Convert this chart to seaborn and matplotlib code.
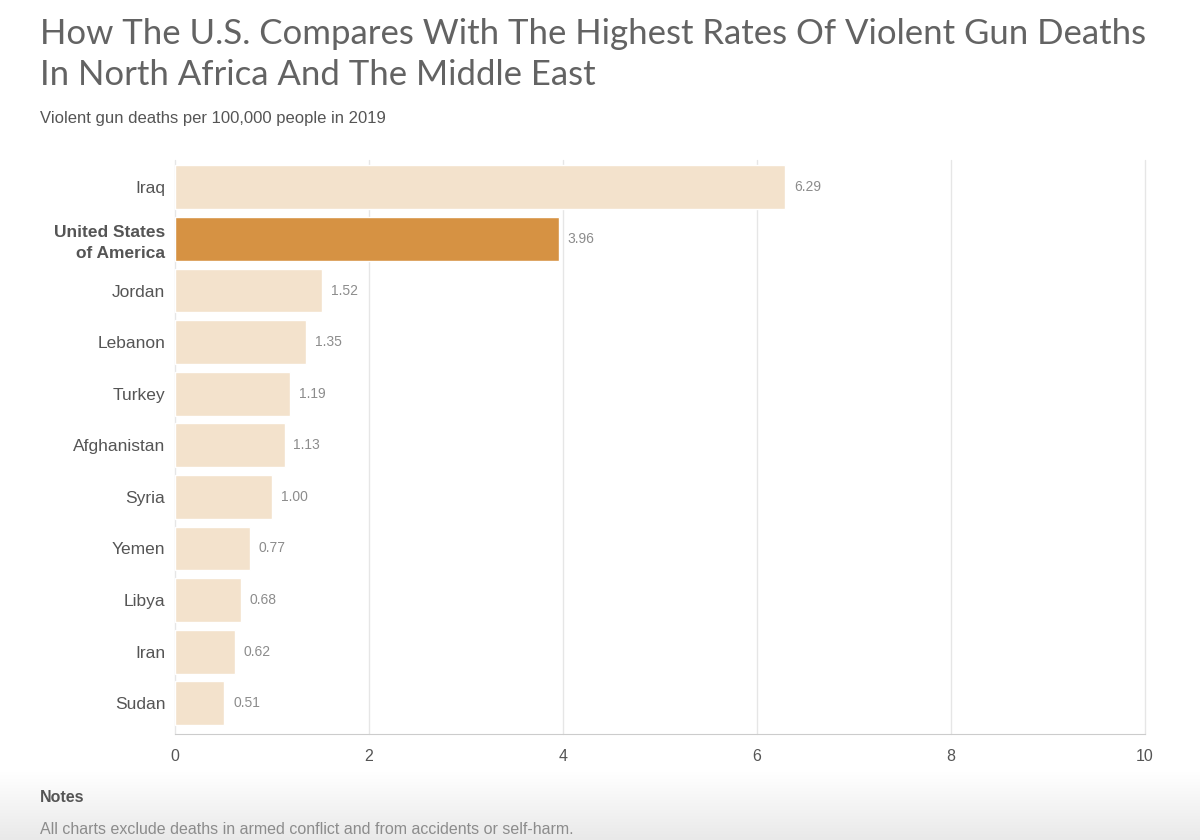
import numpy as np
import matplotlib
matplotlib.use('Agg')
import matplotlib.pyplot as plt
import seaborn as sns
import pandas as pd

# Datos del gráfico
paises = ['Iraq', 'United States\nof America', 'Jordan', 'Lebanon', 'Turkey',
          'Afghanistan', 'Syria', 'Yemen', 'Libya', 'Iran', 'Sudan']
tasas = [6.29, 3.96, 1.52, 1.35, 1.19, 1.13, 1.00, 0.77, 0.68, 0.62, 0.51]
destacado = 'United States\nof America'
ticks_x = [0, 2, 4, 6, 8, 10]

df = pd.DataFrame({'pais': paises, 'tasa': tasas})
colores = {p: ('#d69243' if p == destacado else '#f3e2cc') for p in paises}

sns.set_style('white')
plt.rcParams['font.family'] = ['Liberation Sans', 'DejaVu Sans']

fig = plt.figure(figsize=(12, 8.4), dpi=100)

# Degradado gris al pie de la figura (blanco arriba, gris claro abajo)
fondo = fig.add_axes([0, 0, 1, 1], zorder=-10)
filas = np.linspace(0, 1, 840)
t = np.clip((filas - 0.92) / 0.08, 0, 1)
nivel = 1.0 - 0.085 * t
img = np.repeat(nivel[:, None], 10, axis=1)
img = np.dstack([img, img, img])
fondo.imshow(img, aspect='auto', extent=[0, 1, 0, 1], origin='upper')
fondo.set_axis_off()

ax = fig.add_axes([0.1458, 0.126, 0.8083, 0.683])
sns.barplot(data=df, y='pais', x='tasa', hue='pais', palette=colores,
            orient='h', width=0.85, legend=False, ax=ax, saturation=1)

for i, v in enumerate(tasas):
    ax.text(v + 0.09, i, f'{v:.2f}', va='center', ha='left', fontsize=10, color='#8c8c8c')

ax.set_facecolor('none')
ax.set_xlim(0, 10)
ax.set_ylim(10.6, -0.523)
ax.set_xticks(ticks_x)
ax.set_xticklabels([str(t) for t in ticks_x], fontsize=11.5, color='#555555')
ax.xaxis.grid(True, color='#e6e6e6', linewidth=1)
for gl in ax.get_xgridlines():
    gl.set_clip_on(False)
ax.set_axisbelow(True)
ax.set_xlabel('')
ax.set_ylabel('')
for s in ['top', 'right', 'left']:
    ax.spines[s].set_visible(False)
ax.spines['bottom'].set_color('#cccccc')
ax.tick_params(axis='x', length=5, color='#cccccc', pad=6)
ax.tick_params(axis='y', length=0, pad=7)
for lbl in ax.get_yticklabels():
    lbl.set_fontsize(12.5)
    lbl.set_color('#555555')
    lbl.set_horizontalalignment('right')
    if lbl.get_text() == destacado:
        lbl.set_fontweight('bold')
        lbl.set_multialignment('right')
        lbl.set_linespacing(1.5)

fig.text(40 / 1200, 1 - 18 / 840,
         'How The U.S. Compares With The Highest Rates Of Violent Gun Deaths\nIn North Africa And The Middle East',
         fontsize=25, color='#636363', va='top', ha='left', family=['Lato', 'DejaVu Sans'],
         fontweight='normal', linespacing=1.36)
fig.text(40 / 1200, 1 - 118 / 840, 'Violent gun deaths per 100,000 people in 2019',
         fontsize=12, color='#555555', va='center', ha='left')
fig.text(40 / 1200, 1 - 797 / 840, 'Notes', fontsize=11.5, color='#555555',
         fontweight='bold', va='center', ha='left')
fig.text(40 / 1200, 1 - 830 / 840,
         'All charts exclude deaths in armed conflict and from accidents or self-harm.',
         fontsize=11.5, color='#8c8c8c', va='center', ha='left')

plt.savefig('out.png', dpi=100)
